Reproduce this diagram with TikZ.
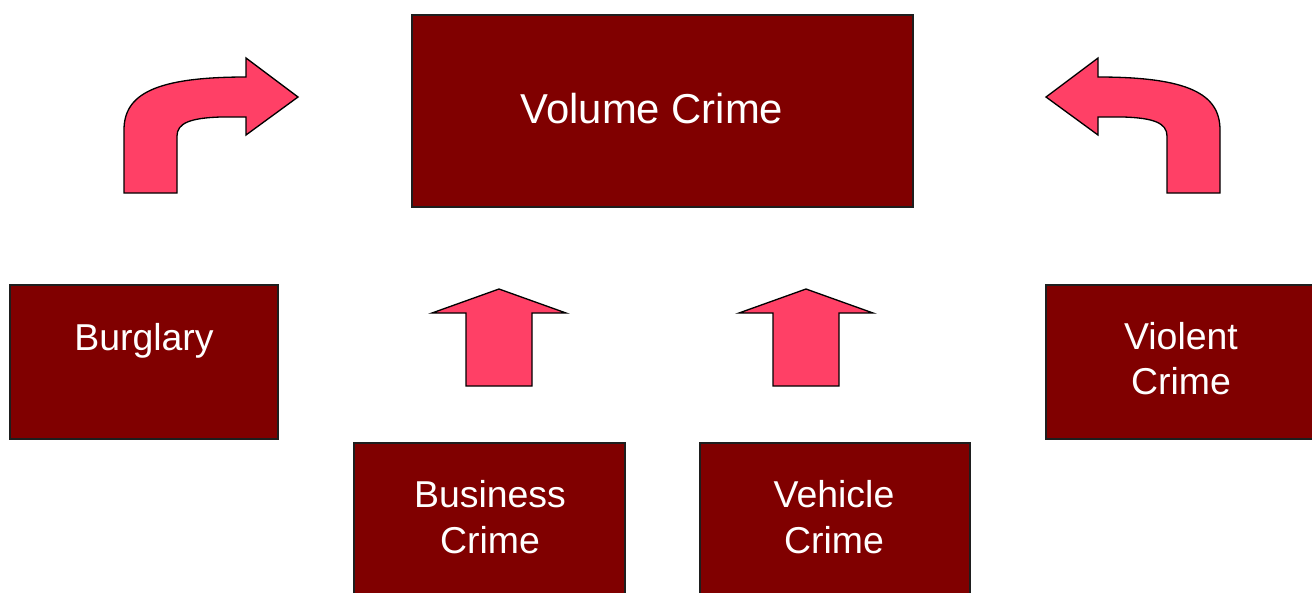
\documentclass[tikz,border=0pt]{standalone}
\usepackage{fontspec}
\setmainfont{Liberation Sans}
\usetikzlibrary{positioning}
\begin{document}
\begin{tikzpicture}[x=0.02cm, y=-0.02cm, >=stealth]

	% ==========================================
	% 1. COLOURS
	% ==========================================
	\definecolor{boxcol}{RGB}{128, 0, 0}      % dark red of the boxes
	\definecolor{arrowcol}{RGB}{255, 64, 102} % pink of the block arrows
	\definecolor{edgecol}{RGB}{30, 30, 30}    % outline of the boxes

	% ==========================================
	% 2. STYLES AND PICS
	% ==========================================
	\tikzset{
		crimebox/.style={draw=edgecol, line width=0.85pt, fill=boxcol, inner sep=0pt},
		crimetext/.style={text=white, align=center, font=\fontsize{21.3}{26}\selectfont},
		% straight block arrow, origin at the bottom middle of the shaft
		uparrow/.pic={
			\draw[line width=0.75pt, fill=arrowcol, line join=miter]
			(-33,0) -- (-33,-73) -- (-67,-73) -- (0,-97) -- (67,-73) -- (33,-73) -- (33,0) -- cycle;
		},
		% bent block arrow, origin at the bottom middle of the shaft
		turnarrow/.pic={
			\draw[line width=0.75pt, fill=arrowcol, line join=miter]
			(-26.5,0) -- (-26.5,-63)
			.. controls (-26.5,-99) and (5,-116) .. (95.5,-116)
			-- (95.5,-135) -- (147.5,-96) -- (95.5,-58) -- (95.5,-76)
			-- (70,-76)
			.. controls (40,-75) and (26.5,-70) .. (26.5,-57)
			-- (26.5,0) -- cycle;
		}
	}

	\useasboundingbox (0,0) rectangle (1312,592);

	% ==========================================
	% 3. BOXES
	% ==========================================
	\node[crimebox, minimum width=10.02cm, minimum height=3.84cm] (volume) at (662.5,111) {};
	\node[crimebox, minimum width=5.36cm, minimum height=3.08cm] (burglary) at (144,362) {};
	\node[crimebox, minimum width=5.36cm, minimum height=3.08cm] (violent) at (1180,362) {};
	\node[crimebox, minimum width=5.42cm, minimum height=3.08cm] (business) at (489.5,520) {};
	\node[crimebox, minimum width=5.40cm, minimum height=3.08cm] (vehicle) at (835,520) {};

	% ==========================================
	% 4. TEXTS
	% ==========================================
	\node[crimetext, font=\fontsize{23.8}{28}\selectfont, anchor=base] (volumetext) at (652,123) {Volume Crime};
	\node[crimetext, anchor=base] (burglarytext) at (144,350) {Burglary};
	\node[crimetext] (violenttext) at (1181,358.5) {Violent\\Crime};
	\node[crimetext] (businesstext) at (490,517) {Business\\Crime};
	\node[crimetext] (vehicletext) at (834,517) {Vehicle\\Crime};

	% ==========================================
	% 5. BLOCK ARROWS
	% ==========================================
	% straight arrows under the big box
	\pic at (499,386) {uparrow};
	\pic at (806,386) {uparrow};

	% bent arrows at the sides
	\pic at (150.5,193) {turnarrow};
	\pic at (1193.5,193) [xscale=-1] {turnarrow};

\end{tikzpicture}
\end{document}
